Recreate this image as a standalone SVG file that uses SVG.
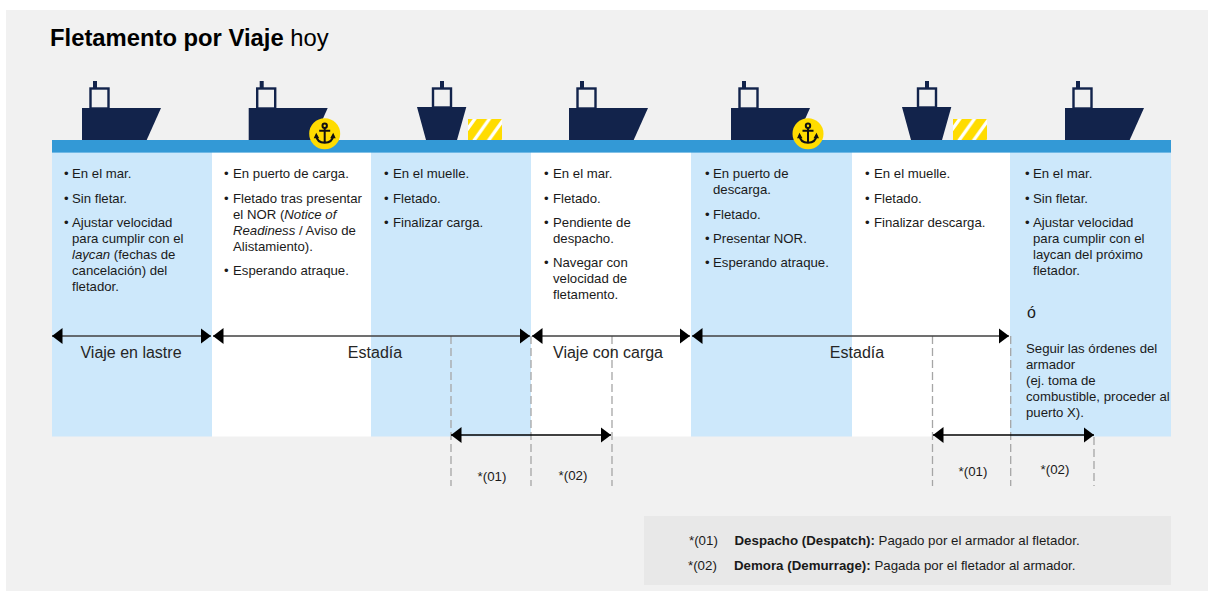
<svg xmlns="http://www.w3.org/2000/svg" width="1208" height="591" viewBox="0 0 1208 591">
<style>
text{font-family:"Liberation Sans",Arial,sans-serif;fill:#1a1a1a}
.b{font-size:13.2px}
.l{font-size:16px;text-anchor:middle;fill:#262626}
.n{font-size:13.3px}
.hull{fill:#12234b}
.cab{fill:none;stroke:#12234b;stroke-width:2.4}
.blue{fill:#cde8fb}
.arr{stroke:#404040;stroke-width:1.6;fill:none;marker-start:url(#hs);marker-end:url(#he)}
.arr2{stroke:#000;stroke-width:1.6;fill:none;marker-start:url(#hs);marker-end:url(#he)}
.dash{stroke:#a6a6a6;stroke-width:1.3;stroke-dasharray:8 4;fill:none}
</style>
<defs>
<marker id="he" markerUnits="userSpaceOnUse" markerWidth="11" markerHeight="17" refX="10.5" refY="8" orient="auto"><path d="M0 0L10.5 8L0 16Z" fill="#000"/></marker>
<marker id="hs" markerUnits="userSpaceOnUse" markerWidth="11" markerHeight="17" refX="0" refY="8" orient="auto"><path d="M10.5 0L0 8L10.5 16Z" fill="#000"/></marker>
<pattern id="hatch" patternUnits="userSpaceOnUse" width="14.600" height="21" patternTransform="translate(468 119)">
<rect width="14.600" height="21" fill="#ffdc00"/>
<path d="M4.700 0H8.700L-6.300 21H-10.300ZM19.300 0H23.300L8.300 21H4.300Z" fill="#fff"/>
</pattern>
<g id="ship"><path class="hull" d="M82 108H161L146.700 140H82Z"/><rect class="cab" x="90.500" y="88.500" width="18" height="20"/><rect class="hull" x="93" y="81" width="4" height="8"/></g>
<g id="front"><path class="hull" d="M417 107H466.300L457 140H426Z"/><rect class="cab" x="433" y="88.500" width="18" height="19"/><rect class="hull" x="440" y="81" width="4" height="8"/></g>
<g id="anchor"><circle r="15.500" fill="#ffdc00"/><g fill="none" stroke="#111" stroke-width="2"><circle cy="-8" r="2.200"/><path d="M0 -6V9M-5.500 -3H5.500M-8.500 2C-8 7-4 9 0 9C4 9 8 7 8.500 2"/></g><path d="M-11 4.500L-8.500 -1L-5.500 4.500ZM11 4.500L8.500 -1L5.500 4.500Z" fill="#111"/></g>
</defs>
<rect x="6" y="10" width="1202" height="581" fill="#f1f1f1"/>
<g id="title"><text x="50" y="46" font-size="23.800px" style="fill:#000"><tspan font-weight="bold">Fletamento por Viaje</tspan> hoy</text></g>
<g id="columns">
<rect class="blue" x="52" y="152" width="160" height="284.500"/>
<rect x="212" y="152" width="159" height="284.500" fill="#fff"/>
<rect class="blue" x="371" y="152" width="160" height="284.500"/>
<rect x="531" y="152" width="160" height="284.500" fill="#fff"/>
<rect class="blue" x="691" y="152" width="161" height="284.500"/>
<rect x="852" y="152" width="158" height="284.500" fill="#fff"/>
<rect class="blue" x="1010" y="152" width="161" height="284.500"/>
</g>
<rect id="sea" x="52" y="140" width="1119" height="12.600" fill="#3399d6"/>
<g id="ship1"><use href="#ship"/></g>
<g id="ship2"><use href="#ship" x="166.700"/><use href="#anchor" x="324.700" y="133.700"/></g>
<g id="ship3"><use href="#front"/><rect x="468" y="119" width="34" height="21" fill="url(#hatch)"/></g>
<g id="ship4"><use href="#ship" x="487"/></g>
<g id="ship5"><use href="#ship" x="649"/><use href="#anchor" x="808" y="133.700"/></g>
<g id="ship6"><use href="#front" x="485"/><rect x="468" y="119" width="34" height="21" fill="url(#hatch)" transform="translate(485 0)"/></g>
<g id="ship7"><use href="#ship" x="983"/></g>
<g id="col1" class="b">
<text x="64" y="178">•</text><text x="72" y="178">En el mar.</text>
<text x="64" y="203">•</text><text x="72" y="203">Sin fletar.</text>
<text x="64" y="227">•</text><text x="72" y="227">Ajustar velocidad</text><text x="72" y="243">para cumplir con el</text><text x="72" y="259"><tspan font-style="italic">laycan</tspan> (fechas de</text><text x="72" y="275">cancelación) del</text><text x="72" y="291">fletador.</text>
</g>
<g id="col2" class="b">
<text x="224" y="178">•</text><text x="233" y="178">En puerto de carga.</text>
<text x="224" y="203">•</text><text x="233" y="203">Fletado tras presentar</text><text x="233" y="219">el NOR (<tspan font-style="italic">Notice of</tspan></text><text x="233" y="235"><tspan font-style="italic">Readiness</tspan> / Aviso de</text><text x="233" y="251">Alistamiento).</text>
<text x="224" y="275">•</text><text x="233" y="275">Esperando atraque.</text>
</g>
<g id="col3" class="b">
<text x="384" y="178">•</text><text x="393" y="178">En el muelle.</text>
<text x="384" y="203">•</text><text x="393" y="203">Fletado.</text>
<text x="384" y="227">•</text><text x="393" y="227">Finalizar carga.</text>
</g>
<g id="col4" class="b">
<text x="544" y="178">•</text><text x="553" y="178">En el mar.</text>
<text x="544" y="203">•</text><text x="553" y="203">Fletado.</text>
<text x="544" y="227">•</text><text x="553" y="227">Pendiente de</text><text x="553" y="243">despacho.</text>
<text x="544" y="267">•</text><text x="553" y="267">Navegar con</text><text x="553" y="283">velocidad de</text><text x="553" y="299">fletamento.</text>
</g>
<g id="col5" class="b">
<text x="705" y="178">•</text><text x="713" y="178">En puerto de</text><text x="713" y="194">descarga.</text>
<text x="705" y="219">•</text><text x="713" y="219">Fletado.</text>
<text x="705" y="243">•</text><text x="713" y="243">Presentar NOR.</text>
<text x="705" y="267">•</text><text x="713" y="267">Esperando atraque.</text>
</g>
<g id="col6" class="b">
<text x="865" y="178">•</text><text x="874" y="178">En el muelle.</text>
<text x="865" y="203">•</text><text x="874" y="203">Fletado.</text>
<text x="865" y="227">•</text><text x="874" y="227">Finalizar descarga.</text>
</g>
<g id="col7" class="b">
<text x="1025" y="178">•</text><text x="1033" y="178">En el mar.</text>
<text x="1025" y="203">•</text><text x="1033" y="203">Sin fletar.</text>
<text x="1025" y="227">•</text><text x="1033" y="227">Ajustar velocidad</text><text x="1033" y="243">para cumplir con el</text><text x="1033" y="259">laycan del próximo</text><text x="1033" y="275">fletador.</text>
<text x="1027" y="318" font-size="16px">ó</text>
<text x="1026" y="353">Seguir las órdenes del</text><text x="1026" y="369">armador</text><text x="1026" y="385">(ej. toma de</text><text x="1026" y="401">combustible, proceder al</text><text x="1026" y="417">puerto X).</text>
</g>
<g id="connectors">
<path class="dash" d="M451 336V486M531 336V486M612 336V486M932.500 336V486M1010.700 336V486M1094 437V486"/>
<path class="arr" d="M52 336H211"/>
<path class="arr" d="M213 336H530"/>
<path class="arr" d="M532 336H690"/>
<path class="arr" d="M692 336H1009"/>
<path class="arr2" d="M451 435H611"/>
<path class="arr2" d="M933 435H1094"/>
</g>
<g id="labels">
<text class="l" x="131" y="358">Viaje en lastre</text>
<text class="l" x="375" y="358">Estadía</text>
<text class="l" x="608" y="358">Viaje con carga</text>
<text class="l" x="857" y="358">Estadía</text>
<text class="n" x="492" y="481" text-anchor="middle">*(01)</text>
<text class="n" x="573" y="480" text-anchor="middle">*(02)</text>
<text class="n" x="973" y="476" text-anchor="middle">*(01)</text>
<text class="n" x="1055" y="474" text-anchor="middle">*(02)</text>
</g>
<g id="legend">
<rect x="644" y="516" width="527" height="69" fill="#e8e8e8"/>
<text class="n" x="689" y="545">*(01)</text>
<text class="n" x="734.500" y="545"><tspan font-weight="bold">Despacho (Despatch):</tspan> Pagado por el armador al fletador.</text>
<text class="n" x="688" y="570">*(02)</text>
<text class="n" x="734" y="570"><tspan font-weight="bold">Demora (Demurrage):</tspan> Pagada por el fletador al armador.</text>
</g>
</svg>
